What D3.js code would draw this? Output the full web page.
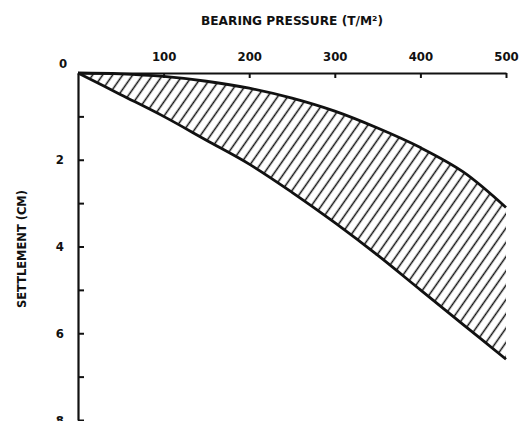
<!DOCTYPE html>
<html>
<head>
<meta charset="utf-8">
<script src="https://cdn.jsdelivr.net/npm/d3@7"></script>
<style>
  html, body { margin: 0; padding: 0; background: #fff; }
  svg { display: block; }
  text { font-family: "DejaVu Sans Condensed", "DejaVu Sans", sans-serif; font-weight: bold; fill: #111; }
</style>
</head>
<body>
<script>
// Bearing pressure (T/m²) sample points
const pressure = [0, 50, 100, 150, 200, 250, 300, 350, 400, 450, 500];
// Settlement (cm) — upper bound curve (smaller settlement)
const upperSettlement = [0, 0.02, 0.08, 0.19, 0.35, 0.58, 0.88, 1.27, 1.72, 2.28, 3.1];
// Settlement (cm) — lower bound curve (larger settlement)
const lowerSettlement = [0, 0.5, 1.0, 1.55, 2.1, 2.75, 3.45, 4.2, 5.0, 5.8, 6.6];
const xTicks = [100, 200, 300, 400, 500];
const yTicks = [0, 1, 2, 3, 4, 5, 6, 7, 8];
const yLabelTicks = [2, 4, 6, 8];
const xTitle = "BEARING PRESSURE (T/M²)";
const yTitle = "SETTLEMENT (CM)";

const W = 527, H = 421;
const svg = d3.select("body").append("svg").attr("width", W).attr("height", H);

const x = d3.scaleLinear().domain([0, 500]).range([78, 506]);
const y = d3.scaleLinear().domain([0, 8]).range([73, 420]);

// hatch pattern
const defs = svg.append("defs");
const pat = defs.append("pattern")
  .attr("id", "hatch")
  .attr("patternUnits", "userSpaceOnUse")
  .attr("width", 8.2).attr("height", 20)
  .attr("patternTransform", "rotate(35)");
pat.append("line")
  .attr("x1", 4.1).attr("y1", -2).attr("x2", 4.1).attr("y2", 22)
  .attr("stroke", "#111").attr("stroke-width", 1.5);

const data = pressure.map((p, i) => ({ p, u: upperSettlement[i], l: lowerSettlement[i] }));

const curve = d3.curveCatmullRom.alpha(0.5);
const area = d3.area()
  .x(d => x(d.p))
  .y0(d => y(d.u))
  .y1(d => y(d.l))
  .curve(curve);

svg.append("path").datum(data).attr("d", area).attr("fill", "url(#hatch)").attr("stroke", "none");

const lineU = d3.line().x(d => x(d.p)).y(d => y(d.u)).curve(curve);
const lineL = d3.line().x(d => x(d.p)).y(d => y(d.l)).curve(curve);
svg.append("path").datum(data).attr("d", lineU).attr("fill", "none").attr("stroke", "#111").attr("stroke-width", 2.8);
svg.append("path").datum(data).attr("d", lineL).attr("fill", "none").attr("stroke", "#111").attr("stroke-width", 2.8);

// top x axis
const xAxis = d3.axisTop(x).tickValues(xTicks).tickSize(-5).tickPadding(12).tickSizeOuter(0)
  .tickFormat(d3.format("d"));
const gx = svg.append("g").attr("transform", `translate(0,${y(0)})`).call(xAxis);
gx.select(".domain").attr("stroke", "#111").attr("stroke-width", 2.2);
gx.selectAll(".tick line").attr("stroke", "#111").attr("stroke-width", 2);
gx.selectAll(".tick text").attr("font-size", 13).attr("fill", "#111")
  .style("font-family", '"DejaVu Sans Condensed", "DejaVu Sans", sans-serif').style("font-weight", "bold");

// left y axis
const yAxis = d3.axisLeft(y).tickValues(yTicks).tickSize(-6).tickPadding(14).tickSizeOuter(0)
  .tickFormat(d => yLabelTicks.includes(d) ? d3.format("d")(d) : "");
const gy = svg.append("g").attr("transform", `translate(${x(0)},0)`).call(yAxis);
gy.select(".domain").attr("stroke", "#111").attr("stroke-width", 2.2);
gy.selectAll(".tick line").attr("stroke", "#111").attr("stroke-width", 2);
gy.selectAll(".tick text").attr("font-size", 13).attr("fill", "#111")
  .style("font-family", '"DejaVu Sans Condensed", "DejaVu Sans", sans-serif').style("font-weight", "bold");
gy.selectAll(".tick").filter(d => d === 0).select("line").remove();

// shared origin label
svg.append("text").attr("x", x(0) - 15).attr("y", y(0) - 10)
  .attr("text-anchor", "middle").attr("dy", "0.35em").attr("font-size", 13).text("0");

// titles
svg.append("text").attr("x", 292).attr("y", 20).attr("text-anchor", "middle")
  .attr("dy", "0.35em").attr("font-size", 13).attr("textLength", 182).attr("lengthAdjust", "spacingAndGlyphs")
  .text(xTitle);
svg.append("text").attr("transform", "translate(21,249) rotate(-90)").attr("text-anchor", "middle")
  .attr("dy", "0.35em").attr("font-size", 13).attr("textLength", 118).attr("lengthAdjust", "spacingAndGlyphs")
  .text(yTitle);
</script>
</body>
</html>
